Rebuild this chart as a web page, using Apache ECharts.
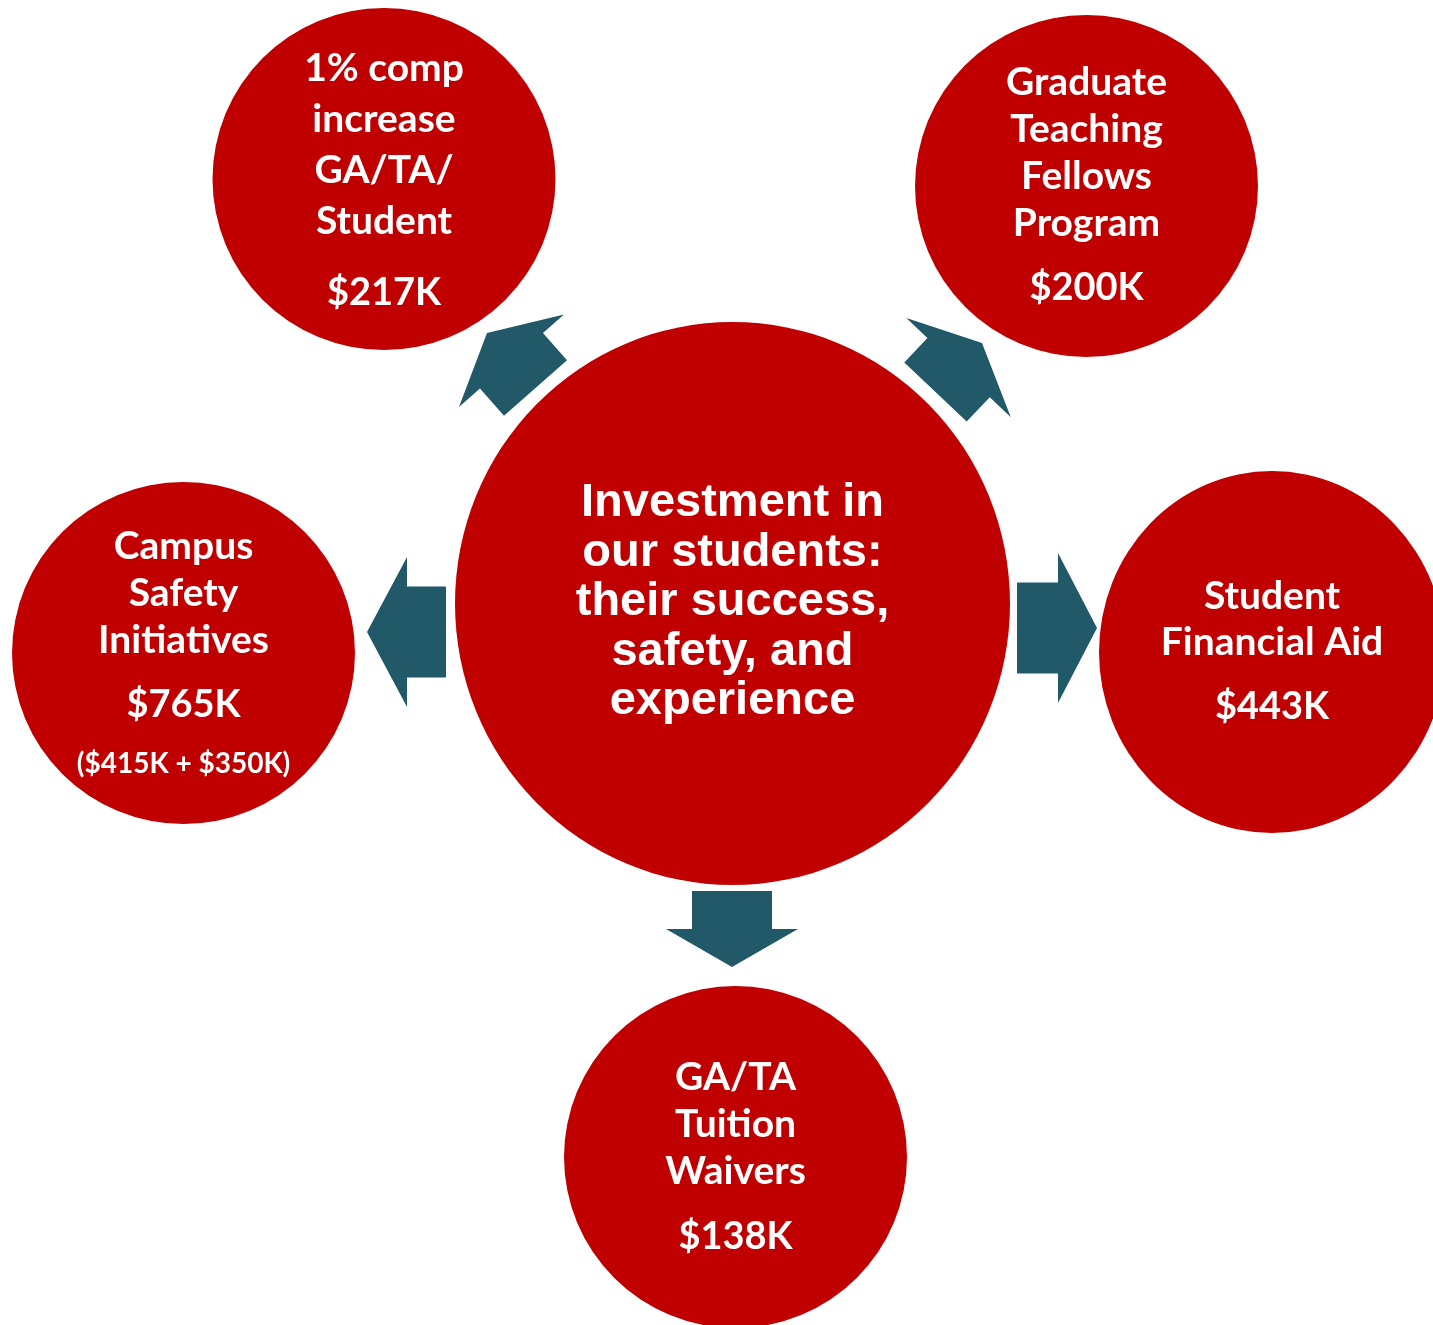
<!DOCTYPE html>
<html lang="en">
<head>
    <meta charset="UTF-8">
    <title>Investment in our students</title>
    <script src="https://cdn.jsdelivr.net/npm/echarts@6/dist/echarts.min.js"></script>
    <style>
        html, body { margin: 0; padding: 0; background: #ffffff; }
        #chart { width: 1433px; height: 1325px; }
    </style>
</head>
<body>
    <div id="chart"></div>
    <script>
        // chart content
        var centreText = ['Investment in', 'our students:', 'their success,', 'safety, and', 'experience'];
        var topics = [
            ['1% comp', 'increase', 'GA/TA/', 'Student'],
            ['Graduate', 'Teaching', 'Fellows', 'Program'],
            ['Campus', 'Safety', 'Initiatives'],
            ['Student', 'Financial Aid'],
            ['GA/TA', 'Tuition', 'Waivers']
        ];
        var amounts = ['$217K', '$200K', '$765K', '$443K', '$138K'];
        var amountNotes = ['', '', '($415K + $350K)', '', ''];

        // layout (pixel space of the hidden axes)
        var centrePos = [732.5, 603.5];
        var centreSize = [555, 563];
        var nodePos = [[384, 179], [1086.5, 186], [183.5, 653], [1272, 652], [735.5, 1157]];
        var nodeSize = [[343, 342], [343, 342], [343, 342], [346, 362], [343, 342]];
        var nodeLineHeight = [51, 47, 47, 46, 47];
        var labelOffset = [[0, 12], [0, 8], [0, -1], [0, 9], [0, 9]];
        // tail x, tail y, tip x, tip y, shaft width, head width, head length
        var arrows = [
            [535.5, 388, 487, 333, 84, 140, 37],
            [935.5, 392, 982, 343, 86, 144, 34],
            [446, 632, 367, 632, 91, 150, 40],
            [1017, 628, 1097, 628, 91, 150, 39],
            [732, 891, 732, 967, 80, 132, 38]
        ];

        var red = '#C00000';
        var teal = '#215968';

        var chart = echarts.init(document.getElementById('chart'));

        var nodeData = topics.map(function (t, i) {
            var lh = nodeLineHeight[i];
            var parts = t.map(function (line) { return '{n|' + line + '}'; });
            parts.push('{v|' + amounts[i] + '}');
            if (amountNotes[i]) parts.push('{s|' + amountNotes[i] + '}');
            return {
                value: nodePos[i],
                symbolSize: nodeSize[i],
                label: {
                    formatter: parts.join('\n'),
                    offset: labelOffset[i],
                    rich: {
                        n: { fontFamily: 'Lato', fontWeight: 'bold', fontSize: 39, color: '#fff', lineHeight: lh },
                        v: { fontFamily: 'Lato', fontWeight: 'bold', fontSize: 38, color: '#fff', lineHeight: 2 * (65 - lh / 2) + (i === 0 ? 14 : 0) },
                        s: { fontFamily: 'Lato', fontWeight: 'bold', fontSize: 28, color: '#fff', lineHeight: 35 }
                    }
                }
            };
        });

        var option = {
            animation: false,
            grid: { left: 0, right: 0, top: 0, bottom: 0 },
            xAxis: { type: 'value', min: 0, max: 1433, show: false },
            yAxis: { type: 'value', min: 0, max: 1325, inverse: true, show: false },
            series: [
                {
                    type: 'custom',
                    silent: true,
                    z: 1,
                    data: arrows,
                    renderItem: function (params, api) {
                        var tx = api.value(0), ty = api.value(1), hx = api.value(2), hy = api.value(3);
                        var sw = api.value(4), hw = api.value(5), hl = api.value(6);
                        var dx = hx - tx, dy = hy - ty;
                        var len = Math.sqrt(dx * dx + dy * dy);
                        var ux = dx / len, uy = dy / len;
                        var px = -uy, py = ux;
                        var bx = tx + ux * (len - hl), by = ty + uy * (len - hl);
                        var pts = [
                            [tx + px * sw / 2, ty + py * sw / 2],
                            [bx + px * sw / 2, by + py * sw / 2],
                            [bx + px * hw / 2, by + py * hw / 2],
                            [hx, hy],
                            [bx - px * hw / 2, by - py * hw / 2],
                            [bx - px * sw / 2, by - py * sw / 2],
                            [tx - px * sw / 2, ty - py * sw / 2]
                        ].map(function (p) { return api.coord(p); });
                        return {
                            type: 'polygon',
                            shape: { points: pts },
                            style: { fill: teal }
                        };
                    }
                },
                {
                    type: 'scatter',
                    silent: true,
                    z: 2,
                    symbol: 'circle',
                    itemStyle: { color: red, opacity: 1 },
                    label: { show: true, position: 'inside', align: 'center', verticalAlign: 'middle' },
                    data: nodeData
                },
                {
                    type: 'scatter',
                    silent: true,
                    z: 2,
                    symbol: 'circle',
                    itemStyle: { color: red, opacity: 1 },
                    data: [{
                        value: centrePos,
                        symbolSize: centreSize,
                        label: {
                            show: true,
                            position: 'inside',
                            offset: [0, -1],
                            formatter: centreText.join('\n'),
                            fontFamily: 'Liberation Sans',
                            fontWeight: 'bold',
                            fontSize: 47,
                            lineHeight: 49.5,
                            color: '#fff',
                            align: 'center'
                        }
                    }]
                }
            ]
        };
        chart.setOption(option);
    </script>
</body>
</html>
